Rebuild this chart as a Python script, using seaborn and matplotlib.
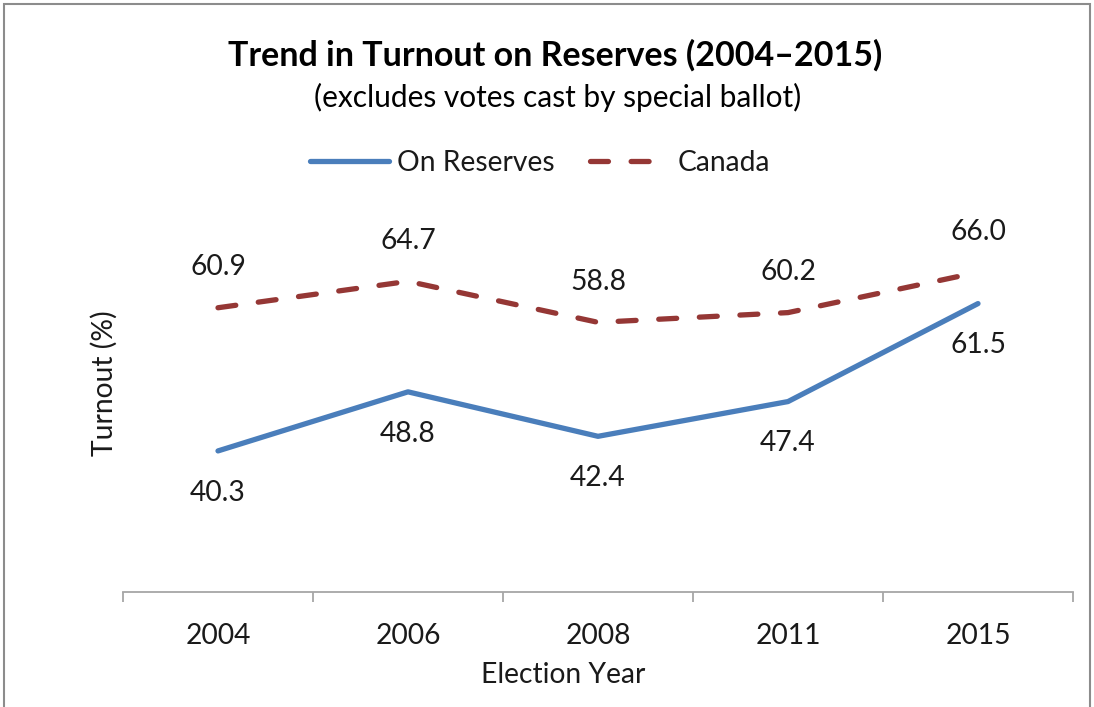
import matplotlib
matplotlib.use("Agg")
import matplotlib.pyplot as plt
import seaborn as sns
import pandas as pd
from matplotlib.patches import Rectangle

years = ["2004", "2006", "2008", "2011", "2015"]
on_reserves = [40.3, 48.8, 42.4, 47.4, 61.5]
canada = [60.9, 64.7, 58.8, 60.2, 66.0]
series_names = ["On Reserves", "Canada"]

df = pd.DataFrame({
    "year": years * 2,
    "turnout": on_reserves + canada,
    "series": [series_names[0]] * len(years) + [series_names[1]] * len(years),
})

sns.set_theme(style="white")
plt.rcParams["font.family"] = ["Lato", "DejaVu Sans"]

fig = plt.figure(figsize=(10.94, 7.07), dpi=100)
ax = fig.add_axes([123 / 1094, 1 - 592 / 707, (1073 - 123) / 1094, (592 - 175) / 707])

blue = "#4A7EBB"
red = "#953735"
txt = "#1a1a1a"
fs = 20.3

sns.lineplot(data=df[df.series == series_names[0]], x="year", y="turnout", ax=ax,
             color=blue, linewidth=3.8, label=series_names[0], sort=False)
sns.lineplot(data=df[df.series == series_names[1]], x="year", y="turnout", ax=ax,
             color=red, linewidth=3.8, label=series_names[1], sort=False,
             linestyle=(0, (3.4, 4.3)))
for ln in ax.get_lines():
    ln.set_dash_capstyle("round")
    ln.set_solid_capstyle("round")

ax.set_ylim(20, 80)
ax.set_xlim(-0.5, len(years) - 0.5)

# data labels
for i, v in enumerate(on_reserves):
    ax.annotate(f"{v:.1f}", (i, v), xytext=(0, -30), textcoords="offset points",
                ha="center", va="center", fontsize=fs, color=txt)
for i, v in enumerate(canada):
    ax.annotate(f"{v:.1f}", (i, v), xytext=(0, 29), textcoords="offset points",
                ha="center", va="center", fontsize=fs, color=txt)

# axes styling
for s in ["top", "right", "left"]:
    ax.spines[s].set_visible(False)
ax.spines["bottom"].set_color("#A6A6A6")
ax.spines["bottom"].set_linewidth(1.3)
ax.set_yticks([])
ax.set_xticks(range(len(years)))
ax.set_xticklabels(years, fontsize=fs, color=txt)
ax.set_xticks([i - 0.5 for i in range(len(years) + 1)], minor=True)
ax.tick_params(axis="x", which="major", bottom=False, length=0, pad=22)
ax.tick_params(axis="x", which="minor", bottom=True, length=7, width=1.3,
               color="#A6A6A6", direction="out")
ax.set_xlabel("Election Year", fontsize=fs, color=txt, labelpad=10)
ax.xaxis.label.set_x((563 - 123) / 950)
ax.set_ylabel("Turnout (%)", fontsize=fs, color=txt, labelpad=4)

# legend
leg = ax.legend(loc="center", bbox_to_anchor=(540 / 1094, 1 - 163 / 707),
                bbox_transform=fig.transFigure, ncol=2, frameon=False,
                fontsize=fs, handlelength=2.8, handletextpad=0.3, columnspacing=1.25)
for t in leg.get_texts():
    t.set_color(txt)

fig.text(555 / 1094, 1 - 55 / 707, "Trend in Turnout on Reserves (2004\u20132015)",
         ha="center", va="center", fontsize=24.5, fontweight="bold", color="#000000")
fig.text(558 / 1094, 1 - 97 / 707, "(excludes votes cast by special ballot)",
         ha="center", va="center", fontsize=21.5, color="#000000")

fig.patches.append(Rectangle((4 / 1094, -0.01), 1086 / 1094, 1 - 4 / 707 + 0.01,
                             transform=fig.transFigure, fill=False,
                             edgecolor="#8C8C8C", linewidth=1.5))

fig.savefig("out.png", dpi=100)
